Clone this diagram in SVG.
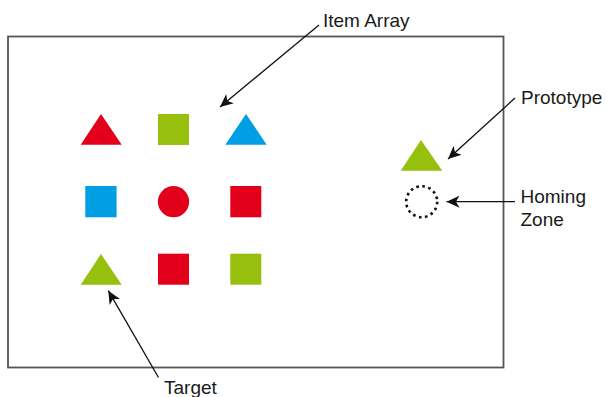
<svg xmlns="http://www.w3.org/2000/svg" width="607" height="397" viewBox="0 0 607 397">
  <style>
    .lbl { font-family: "Liberation Sans", Arial, sans-serif; font-size: 19px; fill: #1a1a1a; }
    .conn { stroke: #111; stroke-width: 1.3; fill: none; }
    .red { fill: #E2001A; }
    .green { fill: #97BF0D; }
    .blue { fill: #009FE3; }
  </style>
  <defs>
    <marker id="arr" markerUnits="userSpaceOnUse" markerWidth="14" markerHeight="12" viewBox="0 0 14 12" refX="13" refY="6" orient="auto">
      <path d="M0,0 L13,6 L0,12 L3.5,6 Z" fill="#111"/>
    </marker>
  </defs>
  <rect id="frame" x="8" y="36.5" width="495.5" height="331" fill="none" stroke="#555" stroke-width="1.8"/>

  <g id="item-r1c1"><polygon class="red" points="101,114 80.7,144.7 121.7,144.7"/></g>
  <g id="item-r1c2"><rect class="green" x="158" y="114" width="31" height="31"/></g>
  <g id="item-r1c3"><polygon class="blue" points="246,114 225.3,144.7 266.7,144.7"/></g>
  <g id="item-r2c1"><rect class="blue" x="85.3" y="186" width="31.3" height="31.3"/></g>
  <g id="item-r2c2"><circle class="red" cx="173.5" cy="201.7" r="15.6"/></g>
  <g id="item-r2c3"><rect class="red" x="230.3" y="186" width="31" height="31.3"/></g>
  <g id="target"><polygon class="green" points="101,254 80.7,284.7 121.7,284.7"/></g>
  <g id="item-r3c2"><rect class="red" x="158" y="253.7" width="31" height="31"/></g>
  <g id="item-r3c3"><rect class="green" x="230.3" y="253.7" width="31" height="31"/></g>

  <g id="prototype"><polygon class="green" points="421,140 400.7,170.7 442.3,170.7"/></g>
  <g id="homing-zone"><circle cx="421.7" cy="201.7" r="15.5" fill="none" stroke="#111" stroke-width="2.6" stroke-dasharray="2.6 3.5"/></g>

  <g id="labels">
    <text class="lbl" x="323" y="26.5">Item Array</text>
    <text class="lbl" x="521" y="103.5">Prototype</text>
    <text class="lbl" x="520.5" y="202.7">Homing</text>
    <text class="lbl" x="520.5" y="226">Zone</text>
    <text class="lbl" x="164" y="393.5">Target</text>
  </g>

  <g id="connectors">
    <line class="conn" x1="319" y1="25" x2="220" y2="107" marker-end="url(#arr)"/>
    <line class="conn" x1="515" y1="98" x2="448" y2="159" marker-end="url(#arr)"/>
    <line class="conn" x1="515" y1="201.7" x2="446.5" y2="201.7" marker-end="url(#arr)"/>
    <line class="conn" x1="158.5" y1="377.5" x2="108.3" y2="290.7" marker-end="url(#arr)"/>
  </g>
</svg>
